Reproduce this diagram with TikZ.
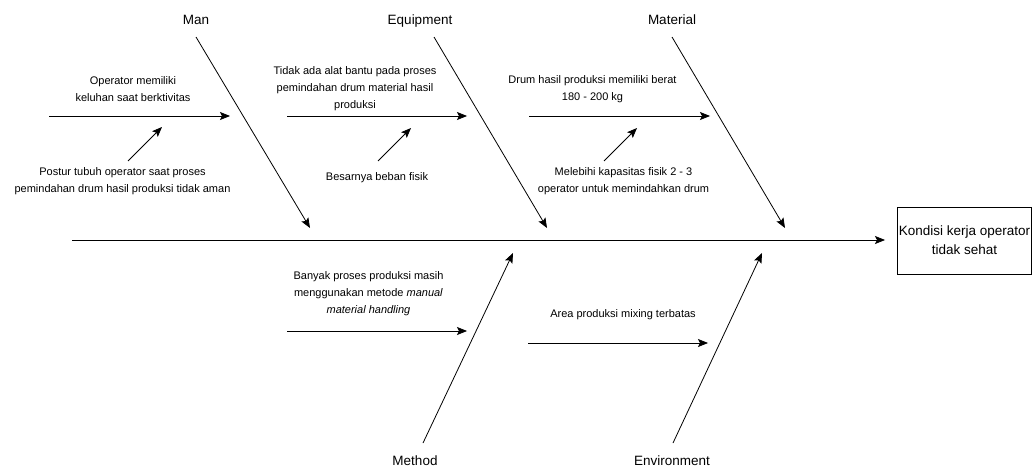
\documentclass[tikz,border=0pt]{standalone}
\usepackage{fontspec}
\setmainfont{Liberation Sans}
\usetikzlibrary{arrows.meta}

\begin{document}
\begin{tikzpicture}[x=1pt,y=-1pt,line width=0.8pt,
    >={Stealth[length=10pt,width=8pt,inset=2pt]},
    cause/.style={font=\fontsize{11}{17}\selectfont,align=center,inner sep=0pt},
    categ/.style={font=\fontsize{13.5}{16}\selectfont,inner sep=0pt,anchor=base}]
  \useasboundingbox (0,0) rectangle (1032,468);

  % spine and effect
  \coordinate (tail) at (72,240);
  \coordinate (head) at (885,240);
  \node[draw,minimum width=133pt,minimum height=67pt,inner sep=1pt,
    font=\fontsize{13.5}{19}\selectfont,align=center] (effect) at (964.5,240.5)
    {Kondisi kerja operator\\tidak sehat};
  \path[->] (tail) edge (head);

  % category labels
  \node[categ] (man) at (196,24.5) {Man};
  \node[categ] (equip) at (420,24.5) {Equipment};
  \node[categ] (mat) at (672,24.5) {Material};
  \node[categ] (meth) at (415,465) {Method};
  \node[categ] (env) at (672,465) {Environment};

  % bones
  \coordinate (man-a) at (196,37);  \coordinate (man-b) at (310,228);
  \coordinate (equip-a) at (434,37); \coordinate (equip-b) at (547,228);
  \coordinate (mat-a) at (672,37);  \coordinate (mat-b) at (785,228);
  \coordinate (meth-a) at (423,443); \coordinate (meth-b) at (513,253);
  \coordinate (env-a) at (673,443);  \coordinate (env-b) at (762,253);
  \path[->] (man-a) edge (man-b) (equip-a) edge (equip-b) (mat-a) edge (mat-b)
    (meth-a) edge (meth-b) (env-a) edge (env-b);

  % causes
  \node[cause] (man-1) at (133,89) {Operator memiliki\\keluhan saat berktivitas};
  \node[cause] (man-2) at (122.5,181) {Postur tubuh operator saat proses\\pemindahan drum hasil produksi tidak aman};
  \node[cause] (equip-1) at (355,88.5) {Tidak ada alat bantu pada proses\\pemindahan drum material hasil\\produksi};
  \node[cause] (equip-2) at (377,178) {Besarnya beban fisik};
  \node[cause] (mat-1) at (592.5,89) {Drum hasil produksi memiliki berat\\180 - 200 kg};
  \node[cause] (mat-2) at (623.5,181) {Melebihi kapasitas fisik 2 - 3\\operator untuk memindahkan drum};
  \node[cause] (meth-1) at (368.5,294) {Banyak proses produksi masih\\menggunakan metode \textit{manual}\\\textit{material handling}};
  \node[cause] (env-1) at (623,315) {Area produksi mixing terbatas};

  \coordinate (man-1a) at (49,116);   \coordinate (man-1b) at (230,116);
  \coordinate (equip-1a) at (287,116); \coordinate (equip-1b) at (467,116);
  \coordinate (mat-1a) at (529,116);  \coordinate (mat-1b) at (710,116);
  \coordinate (meth-1a) at (287,331); \coordinate (meth-1b) at (467,331);
  \coordinate (env-1a) at (528,343);  \coordinate (env-1b) at (708,343);
  \path[->] (man-1a) edge (man-1b) (equip-1a) edge (equip-1b) (mat-1a) edge (mat-1b)
    (meth-1a) edge (meth-1b) (env-1a) edge (env-1b);

  % sub causes
  \coordinate (man-2a) at (128,161);   \coordinate (man-2b) at (162,127);
  \coordinate (equip-2a) at (378,161); \coordinate (equip-2b) at (411,128);
  \coordinate (mat-2a) at (604,161);   \coordinate (mat-2b) at (637,128);
  \path[->] (man-2a) edge (man-2b) (equip-2a) edge (equip-2b) (mat-2a) edge (mat-2b);
\end{tikzpicture}
\end{document}
